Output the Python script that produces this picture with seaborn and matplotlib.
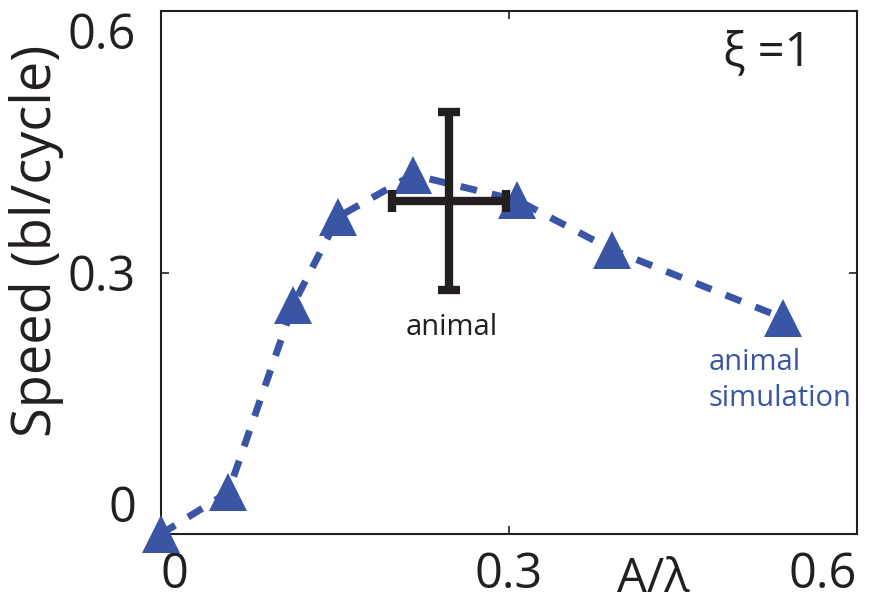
import numpy as np
import matplotlib
matplotlib.use('Agg')
import matplotlib.pyplot as plt
import seaborn as sns

# simulation data (A/lambda vs speed in body lengths per cycle)
amp_ratio = [0.0, 0.058, 0.114, 0.153, 0.217, 0.307, 0.389, 0.536]
speed_sim = [0.0, 0.048, 0.263, 0.364, 0.412, 0.383, 0.326, 0.248]

# animal measurement (mean +/- spread)
animal_x = [0.248]
animal_y = [0.382]
animal_xerr = [0.049]
animal_yerr = [0.102]

BLUE = '#3a55a4'
BLACK = '#231f20'

sns.set_style('ticks')
plt.rcParams['font.family'] = ['Open Sans', 'DejaVu Sans']

fig = plt.figure(figsize=(8.72, 6.08), dpi=100)
ax = fig.add_axes([0.1846, 0.1217, 0.7982, 0.8602])

sns.lineplot(x=amp_ratio, y=speed_sim, ax=ax, color=BLUE, marker='^',
             markersize=28, markeredgewidth=0, linewidth=5,
             linestyle=(0, (2.4, 2.2)), clip_on=False, zorder=3)

ax.errorbar(animal_x, animal_y, xerr=animal_xerr, yerr=animal_yerr,
            fmt='none', ecolor=BLACK, elinewidth=6, capsize=8, capthick=6,
            zorder=4)

ax.set_xlim(0, 0.6)
ax.set_ylim(0, 0.6)
ax.set_xticks([0, 0.3, 0.6])
ax.set_xticklabels(['0', '0.3', '0.6'])
ax.set_yticks([0, 0.3, 0.6])
ax.set_yticklabels(['0', '0.3', '0.6'])
ax.tick_params(direction='in', length=6, width=1.2, labelsize=35,
               top=True, right=True, colors=BLACK)
ax.tick_params(axis='x', pad=12)
ax.tick_params(axis='y', pad=18)

xl = ax.get_xticklabels()
xl[0].set_ha('left')
xl[-1].set_ha('right')
yl = ax.get_yticklabels()
yl[0].set_va('bottom')
yl[-1].set_va('top')

for s in ax.spines.values():
    s.set_linewidth(1.5)
    s.set_color(BLACK)

ax.set_xlabel('A/λ', fontsize=34, color=BLACK)
ax.xaxis.set_label_coords(0.707, -0.042)
ax.set_ylabel('Speed (bl/cycle)', fontsize=39, color=BLACK)
ax.yaxis.set_label_coords(-0.14, 0.56)

ax.text(0.807, 0.92, 'ξ =1', transform=ax.transAxes, fontsize=34,
        color=BLACK, ha='left', va='center')
ax.text(0.418, 0.394, 'animal', transform=ax.transAxes, fontsize=21,
        color=BLACK, ha='center', va='center')
ax.text(0.787, 0.294, 'animal\nsimulation', transform=ax.transAxes,
        fontsize=21, color=BLUE, ha='left', va='center', linespacing=1.3)

fig.savefig('out.png', dpi=100)
